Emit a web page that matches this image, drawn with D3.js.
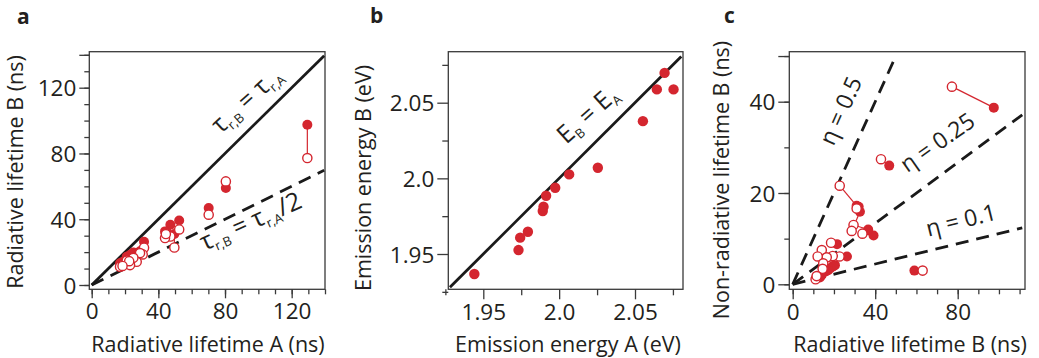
<!DOCTYPE html>
<html><head><meta charset="utf-8">
<script src="https://cdn.jsdelivr.net/npm/d3@7"></script>
<style>
body{margin:0;background:#fff}
svg{display:block}
text{font-family:"Open Sans",sans-serif;fill:#231f20}
</style>
</head><body>
<svg id="chart" width="1039" height="358"></svg>
<script>
// ---------- DATA ----------
// panels a & c: per sample (filled = one estimate, open = other estimate)
const radLifetimeA      = [129.4, 80.5, 70.2, 52.5, 47.2, 49.6, 44.0, 31.4, 30.6, 29.0, 27.0, 25.0, 23.0, 21.0, 17.0, 22.5, 18.5, 44.5];
const radLifetimeBFill  = [ 97.5, 59.0, 46.8, 39.2, 36.6, 31.0, 32.6, 26.3, 21.5, 20.5, 19.5, 19.8, 18.2, 17.2, 13.2, 16.0, 14.0, 32.0];
const radLifetimeBOpen  = [ 77.2, 63.0, 42.8, 33.8, 29.5, 22.8, 28.6, 22.7, 18.6, 19.4, 14.1, 16.5, 12.1, 14.8, 11.1, 14.5, 11.6, 31.0];
const nonRadBFill       = [ 38.7,  3.0, 26.0, 10.7, 12.0, 17.2, 15.9,  6.1,  8.8,  4.2,  3.9,  4.0,  3.5,  3.1,  1.5,  2.8,  2.0, 17.0];
const nonRadBOpen       = [ 43.3,  3.0, 27.4, 11.1, 13.0, 21.6, 11.7,  6.1,  9.1,  6.2,  7.5,  5.9,  6.1,  4.6,  1.1,  3.4,  1.8, 16.6];
// panel b
const emissionA = [1.9441, 1.9732, 1.9743, 1.9794, 1.9892, 1.9897, 1.9914, 1.9974, 2.0066, 2.0255, 2.0552, 2.0644, 2.0695, 2.0754];
const emissionB = [1.9368, 1.9526, 1.9608, 1.9647, 1.9784, 1.9813, 1.9885, 1.9938, 2.0026, 2.0070, 2.0378, 2.0588, 2.0697, 2.0588];
// panel c guide lines
const etaValues = [0.5, 0.25, 0.1];
// tick labels
const ticksA = [0, 40, 80, 120];
const ticksBx = [1.95, 2.0, 2.05];
const ticksCx = [0, 40, 80];
const ticksCy = [0, 20, 40];

// ---------- STYLE ----------
const RED = "#d4262f";
const AX = "#3a3a3a";
const TICK_FS = 22.5, TITLE_FS = 21.5;
const svg = d3.select("#chart");

function frame(g, box) {
  g.append("rect").attr("x", box.l).attr("y", box.t)
    .attr("width", box.r - box.l).attr("height", box.b - box.t)
    .attr("fill", "none").attr("stroke", AX).attr("stroke-width", 1.3);
}
function axes(g, x, y, box, o) {
  const mk = (sel) => { sel.select(".domain").remove(); sel.attr("color", AX);
    sel.selectAll("line").attr("stroke-width", 1.3); };
  g.append("g").attr("transform", `translate(0,${box.b})`)
    .call(d3.axisBottom(x).tickValues(o.xMinor).tickSize(o.minLen).tickFormat("")).call(mk);
  const gx = g.append("g").attr("transform", `translate(0,${box.b})`)
    .call(d3.axisBottom(x).tickValues(o.xMajor).tickSize(o.majLen).tickFormat(o.xFmt).tickPadding(4)).call(mk);
  gx.selectAll("text").attr("font-size", TICK_FS).attr("fill", "#231f20").attr("dy", "0.74em");
  g.append("g").attr("transform", `translate(${box.l},0)`)
    .call(d3.axisLeft(y).tickValues(o.yMinor).tickSize(o.minLen).tickFormat("")).call(mk);
  const gy = g.append("g").attr("transform", `translate(${box.l},0)`)
    .call(d3.axisLeft(y).tickValues(o.yMajor).tickSize(o.majLen + 1).tickFormat(o.yFmt).tickPadding(3)).call(mk);
  gy.selectAll("text").attr("font-size", TICK_FS).attr("fill", "#231f20").attr("dy", "0.36em");
  if (o.yLongExtra) g.append("g").attr("transform", `translate(${box.l},0)`)
    .call(d3.axisLeft(y).tickValues(o.yLongExtra).tickSize(o.majLen + 1).tickFormat("")).call(mk);
  g.append("text").attr("x", o.xt[0]).attr("y", o.xt[1]).attr("text-anchor", "middle")
    .attr("font-size", TITLE_FS).text(o.xTitle);
  g.append("text").attr("transform", `translate(${o.yt[0]},${o.yt[1]}) rotate(-90)`)
    .attr("text-anchor", "middle").attr("font-size", TITLE_FS).text(o.yTitle);
  g.append("text").attr("x", o.letter[0]).attr("y", o.letter[1]).attr("font-size", 21)
    .attr("font-weight", "bold").attr("fill", "#111").text(o.letterText);
}
function subText(g, cx, cy, ang, parts) {
  const t = g.append("text").attr("transform", `translate(${cx},${cy}) rotate(${ang})`)
    .attr("text-anchor", "middle");
  parts.forEach(p => t.append("tspan").attr("font-size", p.s).attr("dy", p.dy || 0).text(p.t));
}

// ---------- PANEL A ----------
{
  const g = svg.append("g");
  const x = d3.scaleLinear().domain([0, 140]).range([91.7, 325]);
  const y = d3.scaleLinear().domain([0, 120]).range([285, 87.7]);
  const box = {l: 89.3, r: 325, t: 51.7, b: 289.3};
  frame(g, box);
  axes(g, x, y, box, {
    xMinor: d3.range(0, 141, 10), xMajor: ticksA, xFmt: d3.format("d"),
    yMinor: d3.range(0, 141, 10), yMajor: ticksA, yFmt: d3.format("d"), yLongExtra: [140],
    majLen: 9, minLen: 5,
    xTitle: "Radiative lifetime A (ns)", xt: [208, 352],
    yTitle: "Radiative lifetime B (ns)", yt: [23, 172],
    letter: [17, 24], letterText: "a"
  });
  const line = d3.line().x(d => x(d[0])).y(d => y(d[1]));
  g.append("path").attr("d", line([[0, 0], [139.5, 139.5]])).attr("stroke", "#1a1a1a")
    .attr("stroke-width", 2.8).attr("fill", "none");
  g.append("path").attr("d", line([[0, 0], [139.5, 69.75]])).attr("stroke", "#1a1a1a")
    .attr("stroke-width", 2.8).attr("fill", "none").attr("stroke-dasharray", "13,8");
  subText(g, 252, 106, -42, [{t: "τ", s: 25}, {t: "r,B", s: 13, dy: 5}, {t: " = τ", s: 25, dy: -5}, {t: "r,A", s: 13, dy: 5}]);
  subText(g, 254, 229, -24, [{t: "τ", s: 25}, {t: "r,B", s: 13, dy: 5}, {t: " = τ", s: 25, dy: -5}, {t: "r,A", s: 13, dy: 5}, {t: "/2", s: 25, dy: -5}]);
  const idx = d3.range(radLifetimeA.length);
  g.selectAll(".ln").data(idx).join("line")
    .attr("x1", i => x(radLifetimeA[i])).attr("x2", i => x(radLifetimeA[i]))
    .attr("y1", i => y(radLifetimeBFill[i])).attr("y2", i => y(radLifetimeBOpen[i]))
    .attr("stroke", RED).attr("stroke-width", 1.2);
  g.selectAll(".f").data(idx).join("circle").attr("cx", i => x(radLifetimeA[i]))
    .attr("cy", i => y(radLifetimeBFill[i])).attr("r", 5).attr("fill", RED);
  g.selectAll(".o").data(idx).join("circle").attr("cx", i => x(radLifetimeA[i]))
    .attr("cy", i => y(radLifetimeBOpen[i])).attr("r", 4.6).attr("fill", "#fff")
    .attr("stroke", RED).attr("stroke-width", 1.4);
}

// ---------- PANEL B ----------
{
  const g = svg.append("g");
  const x = d3.scaleLinear().domain([1.95, 2.05]).range([483.3, 635]);
  const y = d3.scaleLinear().domain([1.95, 2.05]).range([254, 102.7]);
  const box = {l: 448.3, r: 683, t: 51.7, b: 289.3};
  frame(g, box);
  const minors = [1.925, 1.975, 2.025, 2.075];
  const fmt = d => d === 2 ? "2.0" : d3.format(".2f")(d);
  axes(g, x, y, box, {
    xMinor: minors, xMajor: ticksBx, xFmt: fmt,
    yMinor: minors, yMajor: ticksBx, yFmt: fmt,
    majLen: 10, minLen: 6,
    xTitle: "Emission energy A (eV)", xt: [568, 352],
    yTitle: "Emission energy B (eV)", yt: [371, 178],
    letter: [370, 23], letterText: "b"
  });
  const line = d3.line().x(d => x(d[0])).y(d => y(d[1]));
  g.append("path").attr("d", line([[1.928, 1.928], [2.0805, 2.0805]])).attr("stroke", "#1a1a1a")
    .attr("stroke-width", 2.8).attr("fill", "none");
  subText(g, 593, 121, -42, [{t: "E", s: 25}, {t: "B", s: 13, dy: 5}, {t: " = E", s: 25, dy: -5}, {t: "A", s: 13, dy: 5}]);
  g.selectAll(".p").data(d3.range(emissionA.length)).join("circle")
    .attr("cx", i => x(emissionA[i])).attr("cy", i => y(emissionB[i])).attr("r", 5.2).attr("fill", RED);
}

// ---------- PANEL C ----------
{
  const g = svg.append("g");
  const x = d3.scaleLinear().domain([0, 80]).range([792.7, 957.7]);
  const y = d3.scaleLinear().domain([0, 40]).range([284.3, 101.7]);
  const box = {l: 789.3, r: 1025, t: 51.7, b: 289.3};
  frame(g, box);
  axes(g, x, y, box, {
    xMinor: d3.range(0, 111, 10), xMajor: ticksCx, xFmt: d3.format("d"),
    yMinor: d3.range(0, 51, 10), yMajor: ticksCy, yFmt: d3.format("d"), yLongExtra: [50],
    majLen: 10, minLen: 5,
    xTitle: "Radiative lifetime B (ns)", xt: [910, 352],
    yTitle: "Non-radiative lifetime B (ns)", yt: [729, 180],
    letter: [724, 23], letterText: "c"
  });
  const line = d3.line().x(d => x(d[0])).y(d => y(d[1]));
  const xMax = 111.3, yMax = 49.6;
  etaValues.forEach(eta => {
    const k = eta / (1 - eta);
    const xe = Math.min(xMax, yMax / k);
    g.append("path").attr("d", line([[0, 0], [xe, xe * k]])).attr("stroke", "#1a1a1a")
      .attr("stroke-width", 2.8).attr("fill", "none").attr("stroke-dasharray", "13,8");
  });
  subText(g, 848, 114, -66, [{t: "η = 0.5", s: 23}]);
  subText(g, 942, 149, -35, [{t: "η = 0.25", s: 23}]);
  subText(g, 963, 228, -14, [{t: "η = 0.1", s: 23}]);
  const idx = d3.range(radLifetimeBFill.length);
  g.selectAll(".ln").data(idx).join("line")
    .attr("x1", i => x(radLifetimeBFill[i])).attr("x2", i => x(radLifetimeBOpen[i]))
    .attr("y1", i => y(nonRadBFill[i])).attr("y2", i => y(nonRadBOpen[i]))
    .attr("stroke", RED).attr("stroke-width", 1.2);
  g.selectAll(".f").data(idx).join("circle").attr("cx", i => x(radLifetimeBFill[i]))
    .attr("cy", i => y(nonRadBFill[i])).attr("r", 5).attr("fill", RED);
  g.selectAll(".o").data(idx).join("circle").attr("cx", i => x(radLifetimeBOpen[i]))
    .attr("cy", i => y(nonRadBOpen[i])).attr("r", 4.6).attr("fill", "#fff")
    .attr("stroke", RED).attr("stroke-width", 1.4);
}
</script>
</body></html>
